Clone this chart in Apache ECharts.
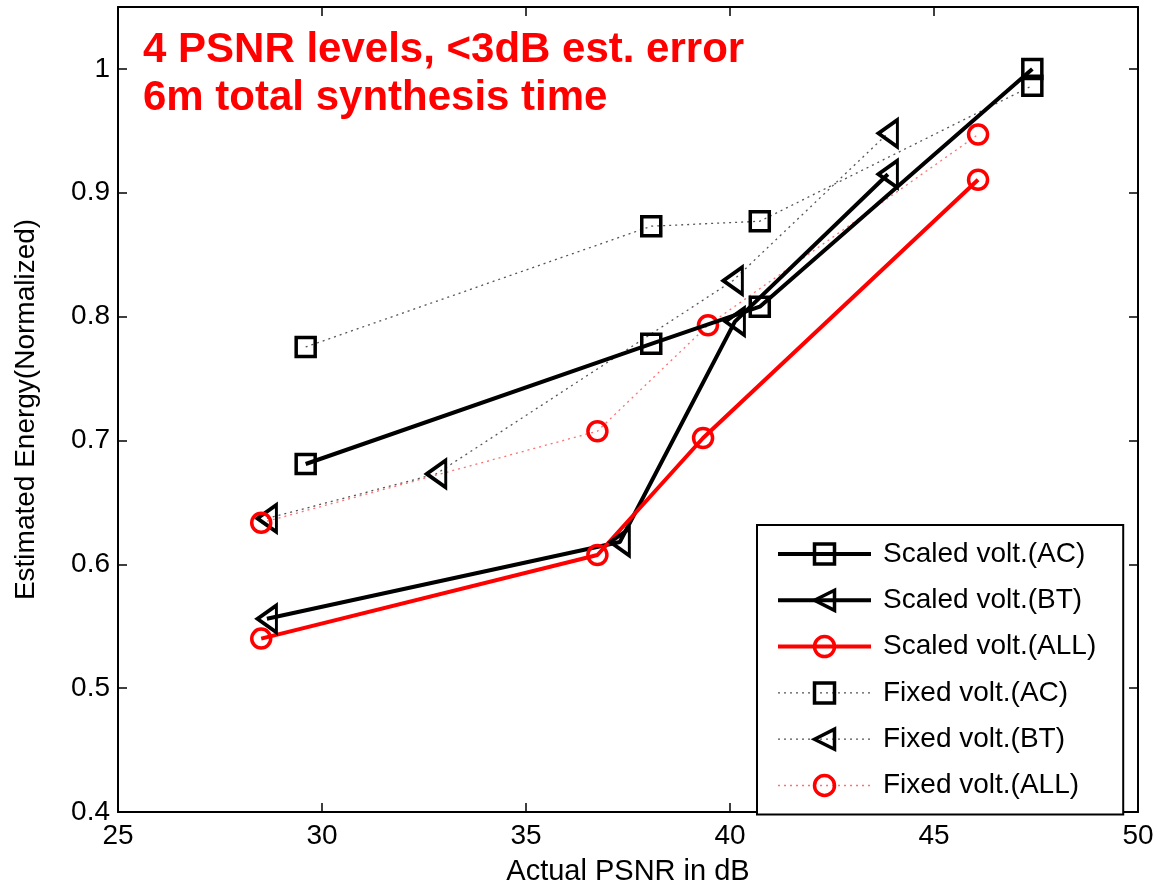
<!DOCTYPE html>
<html>
<head>
<meta charset="utf-8">
<title>Estimated Energy vs Actual PSNR</title>
<script src="https://cdn.jsdelivr.net/npm/echarts@6/dist/echarts.min.js"></script>
<style>
  html, body { margin: 0; padding: 0; background: #ffffff; }
  #chart { width: 1157px; height: 888px; }
</style>
</head>
<body>
<div id="chart"></div>
<script>
// 数据
const titleLines = ['4 PSNR levels, <3dB est. error', '6m total synthesis time'];

const xTicks = [25, 30, 35, 40, 45, 50];
const yTicks = [0.4, 0.5, 0.6, 0.7, 0.8, 0.9, 1];

const acPsnr = [29.60, 38.07, 40.73, 47.41];
const scaledAc = [0.681, 0.778, 0.808, 1.000];
const fixedAc = [0.7755, 0.873, 0.877, 0.9865];

const scaledBtPsnr = [28.65, 37.30, 40.12, 43.87];
const scaledBt = [0.556, 0.618, 0.796, 0.915];
const fixedBtPsnr = [28.65, 32.80, 40.07, 43.87];
const fixedBt = [0.637, 0.673, 0.829, 0.948];

const scaledAllPsnr = [28.51, 36.75, 39.34, 46.08];
const scaledAll = [0.540, 0.6075, 0.702, 0.9105];
const fixedAllPsnr = [28.51, 36.75, 39.46, 46.08];
const fixedAll = [0.6335, 0.7075, 0.793, 0.947];

const seriesNames = [
  'Scaled volt.(AC)', 'Scaled volt.(BT)', 'Scaled volt.(ALL)',
  'Fixed volt.(AC)', 'Fixed volt.(BT)', 'Fixed volt.(ALL)'
];
const seriesColors = ['#000000', '#000000', '#ff0000', '#000000', '#000000', '#ff0000'];
const seriesSolid = [true, true, true, false, false, false];

const FONT = "'Liberation Sans', Arial, Helvetica, sans-serif";
const LINE_W = 4;
const MARK_W = 3.5;

const pairs = (xs, ys) => xs.map((x, i) => [x, ys[i]]);

// 虚线颜色（MATLAB 的点线看起来偏灰/偏粉）
const dotColor = (color) => (color === '#ff0000' ? '#ff7070' : '#555555');

const lineStyleOf = (color, solid) => solid
  ? { color: color, width: LINE_W, type: 'solid' }
  : { color: dotColor(color), width: 1.3, type: [2, 4] };

// 线型 + 标记
const makeSeries = (idx, data, symbol) => {
  const color = seriesColors[idx];
  const solid = seriesSolid[idx];
  const s = {
    name: seriesNames[idx],
    type: 'line',
    data: data,
    xAxisIndex: 0,
    yAxisIndex: 0,
    symbol: symbol,
    symbolSize: 19,
    lineStyle: lineStyleOf(color, solid),
    itemStyle: { color: 'transparent', borderColor: color, borderWidth: MARK_W },
    emphasis: { disabled: true },
    z: solid ? 3 : 2
  };
  if (symbol === 'triangle') {
    s.symbolSize = [27, 19];
    s.symbolRotate = 90;
  }
  return s;
};

const chart = echarts.init(document.getElementById('chart'));

const axisCommon = {
  type: 'value',
  splitLine: { show: false },
  axisLine: { show: true, onZero: false, lineStyle: { color: '#000', width: 2 } },
  axisTick: { show: true, inside: true, length: 9, lineStyle: { color: '#000', width: 1.5 } }
};

const option = {
  animation: false,
  backgroundColor: '#ffffff',
  title: {
    text: titleLines.join('\n'),
    left: 138,
    top: 21,
    textStyle: {
      color: '#ff0000',
      fontSize: 42,
      fontWeight: 'bold',
      fontFamily: FONT,
      lineHeight: 48
    }
  },
  legend: {
    orient: 'vertical',
    left: 757,
    top: 525,
    padding: [15, 27, 15, 19],
    itemWidth: 93,
    itemHeight: 25,
    itemGap: 18.3,
    backgroundColor: '#ffffff',
    borderColor: '#000',
    borderWidth: 2,
    data: seriesNames.map((name, i) => ({
      name: name,
      lineStyle: lineStyleOf(seriesColors[i], seriesSolid[i]),
      itemStyle: { color: 'transparent', borderColor: seriesColors[i], borderWidth: MARK_W }
    })),
    textStyle: {
      color: '#000',
      fontSize: 28,
      fontFamily: FONT,
      padding: [0, 0, 0, 7]
    }
  },
  grid: {
    left: 118,
    right: 19,
    top: 7,
    bottom: 76,
    containLabel: false,
    outerBoundsMode: 'none'
  },
  xAxis: [
    Object.assign({}, axisCommon, {
      min: xTicks[0],
      max: xTicks[xTicks.length - 1],
      interval: 5,
      position: 'bottom',
      name: 'Actual PSNR in dB',
      nameLocation: 'middle',
      nameGap: 45,
      nameTextStyle: { color: '#000', fontSize: 29, fontFamily: FONT },
      axisLabel: { color: '#000', fontSize: 28, fontFamily: FONT, margin: 10 }
    }),
    Object.assign({}, axisCommon, {
      min: xTicks[0],
      max: xTicks[xTicks.length - 1],
      interval: 5,
      position: 'top',
      axisLabel: { show: false }
    })
  ],
  yAxis: [
    Object.assign({}, axisCommon, {
      min: yTicks[0],
      max: 1.05,
      interval: 0.1,
      position: 'left',
      name: 'Estimated Energy(Normalized)',
      nameLocation: 'middle',
      nameGap: 78,
      nameTextStyle: { color: '#000', fontSize: 28, fontFamily: FONT },
      axisLabel: {
        color: '#000', fontSize: 28, fontFamily: FONT, margin: 8,
        showMaxLabel: false,
        formatter: (v) => (yTicks.some(t => Math.abs(t - v) < 1e-6) ? String(+v.toFixed(1)) : '')
      }
    }),
    Object.assign({}, axisCommon, {
      min: yTicks[0],
      max: 1.05,
      interval: 0.1,
      position: 'right',
      axisLabel: { show: false }
    })
  ],
  series: [
    makeSeries(0, pairs(acPsnr, scaledAc), 'rect'),
    makeSeries(1, pairs(scaledBtPsnr, scaledBt), 'triangle'),
    makeSeries(2, pairs(scaledAllPsnr, scaledAll), 'circle'),
    makeSeries(3, pairs(acPsnr, fixedAc), 'rect'),
    makeSeries(4, pairs(fixedBtPsnr, fixedBt), 'triangle'),
    makeSeries(5, pairs(fixedAllPsnr, fixedAll), 'circle')
  ]
};

chart.setOption(option);
</script>
</body>
</html>
